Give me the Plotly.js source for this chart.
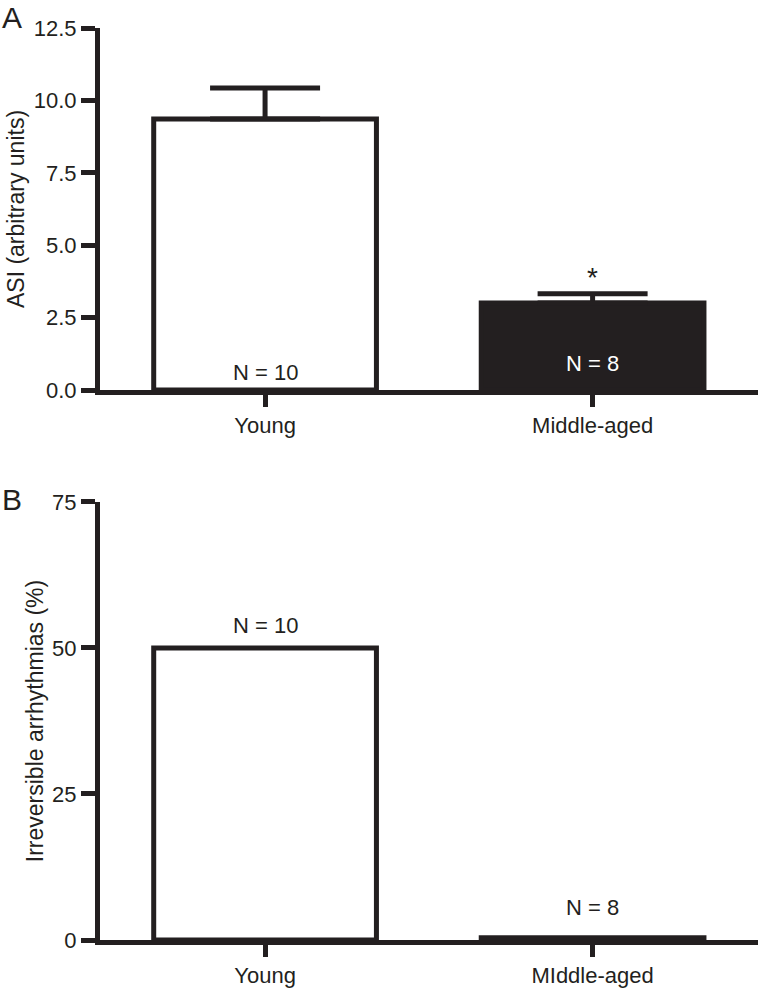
<!DOCTYPE html>
<html>
<head>
<meta charset="utf-8">
<script src="https://cdn.plot.ly/plotly-3.0.1.min.js"></script>
<style>html,body{margin:0;padding:0;background:#fff;}#chart{width:758px;height:990px;}</style>
</head>
<body>
<div id="chart"></div>
<script>
// ---- data ----
const groupsA = ["Young", "Middle-aged"];
const groupsB = ["Young", "MIddle-aged"];
const asiMean = [9.36, 3.0];
const asiSEM = [1.07, 0.32];
const arrhythmiaPct = [50, 0.4];
const nLabels = ["N = 10", "N = 8"];
const asiTicks = [0, 2.5, 5.0, 7.5, 10.0, 12.5];
const asiTickText = ["0.0", "2.5", "5.0", "7.5", "10.0", "12.5"];
const pctTicks = [0, 25, 50, 75];

const FONT = "Liberation Sans, Arial, Helvetica, sans-serif";
const INK = "#231f20";
const FS = 22;
const FT = 23;
const pos = [0, 1];

const traces = [
  {
    type: "bar", x: pos, y: asiMean, xaxis: "x", yaxis: "y",
    width: 0.68,
    marker: {color: ["#ffffff", INK], line: {color: INK, width: 5}},
    error_y: {type: "data", symmetric: false, array: asiSEM, arrayminus: [0, 0],
              color: INK, thickness: 5, width: 55},
    hoverinfo: "none", showlegend: false
  },
  {
    type: "bar", x: pos, y: arrhythmiaPct, xaxis: "x2", yaxis: "y2",
    width: 0.68,
    marker: {color: ["#ffffff", "#ffffff"], line: {color: INK, width: 5}},
    hoverinfo: "none", showlegend: false
  }
];

const axCommon = {
  showline: true, linecolor: INK, linewidth: 5,
  showgrid: false, zeroline: false,
  ticks: "outside", tickcolor: INK, tickwidth: 5,
  tickfont: {family: FONT, size: FS, color: INK}
};

const layout = {
  width: 758, height: 990,
  margin: {l: 100, r: 0, t: 10, b: 30},
  paper_bgcolor: "#fff", plot_bgcolor: "#fff",
  font: {family: FONT, color: INK},
  xaxis: Object.assign({}, axCommon, {
    domain: [0, 1], anchor: "y", range: [-0.504, 1.505],
    tickvals: pos, ticktext: groupsA, ticklen: 12
  }),
  yaxis: Object.assign({}, axCommon, {
    domain: [0.6, 0.98105], anchor: "x", range: [0, 12.5],
    tickvals: asiTicks, ticktext: asiTickText, ticklen: 14,
    title: {text: "ASI (arbitrary units)", font: {family: FONT, size: FT, color: INK}, standoff: 4}
  }),
  xaxis2: Object.assign({}, axCommon, {
    domain: [0, 1], anchor: "y2", range: [-0.504, 1.505],
    tickvals: pos, ticktext: groupsB, ticklen: 12
  }),
  yaxis2: Object.assign({}, axCommon, {
    domain: [0.02105, 0.48211], anchor: "x2", range: [0, 75],
    tickvals: pctTicks, ticklen: 14,
    title: {text: "Irreversible arrhythmias (%)", font: {family: FONT, size: FT, color: INK}, standoff: 4}
  }),
  annotations: [
    {xref: "paper", yref: "paper", x: -0.152, y: 1.012, xanchor: "left", yanchor: "top",
     text: "A", showarrow: false, font: {family: FONT, size: 30, color: INK}},
    {xref: "paper", yref: "paper", x: -0.152, y: 0.504, xanchor: "left", yanchor: "top",
     text: "B", showarrow: false, font: {family: FONT, size: 30, color: INK}},
    {xref: "x", yref: "y", x: pos[0], y: 0.59, text: nLabels[0], showarrow: false,
     font: {family: FONT, size: FS, color: INK}},
    {xref: "x", yref: "y", x: pos[1], y: 0.93, text: nLabels[1], showarrow: false,
     font: {family: FONT, size: FS, color: "#ffffff"}},
    {xref: "x", yref: "y", x: pos[1], y: 3.9, text: "*", showarrow: false,
     font: {family: FONT, size: 28, color: INK}},
    {xref: "x2", yref: "y2", x: pos[0], y: 53.9, text: nLabels[0], showarrow: false,
     font: {family: FONT, size: FS, color: INK}},
    {xref: "x2", yref: "y2", x: pos[1], y: 5.5, text: nLabels[1], showarrow: false,
     font: {family: FONT, size: FS, color: INK}}
  ]
};

Plotly.newPlot("chart", traces, layout, {displayModeBar: false, staticPlot: true});
</script>
</body>
</html>
